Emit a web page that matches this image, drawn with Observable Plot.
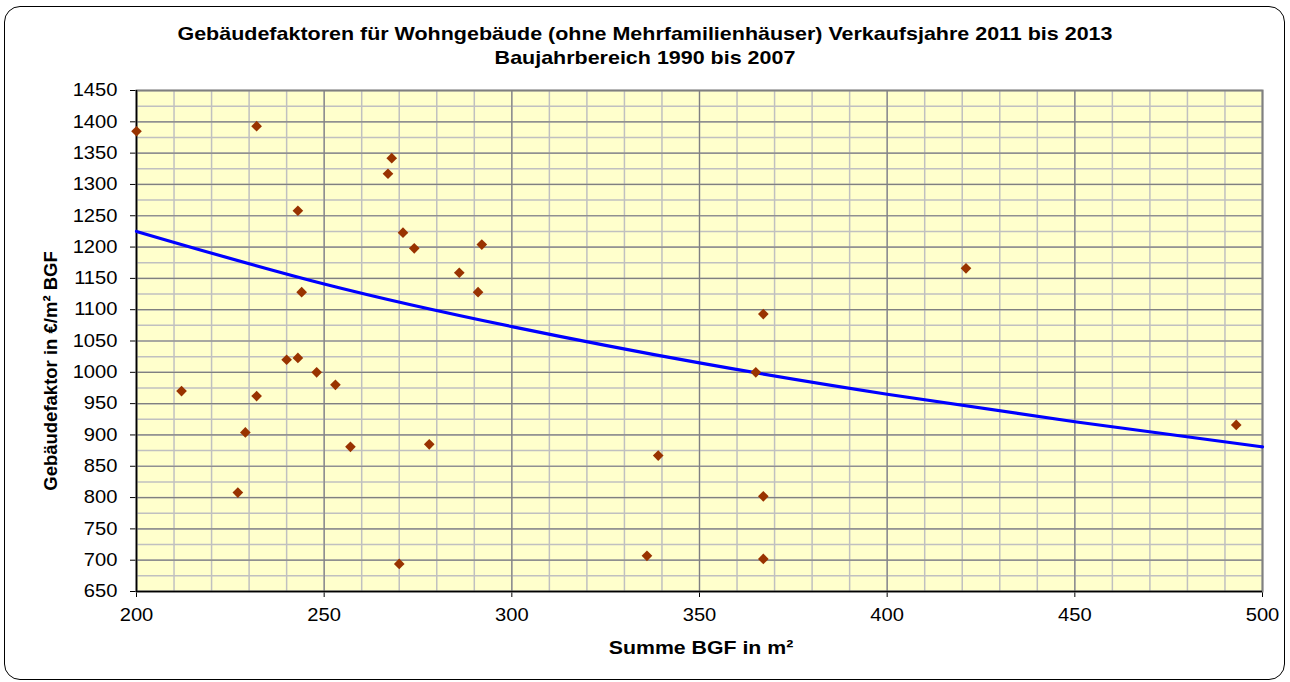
<!DOCTYPE html>
<html>
<head>
<meta charset="utf-8">
<script src="https://cdn.jsdelivr.net/npm/d3@7"></script>
<script src="https://cdn.jsdelivr.net/npm/@observablehq/plot@0.6"></script>
<style>
  html, body { margin: 0; padding: 0; background: #fff; }
  #wrap { position: relative; width: 1290px; height: 682px; overflow: hidden; background: #fff;
          font-family: "Liberation Sans", Arial, sans-serif; color: #000; }
  #border { position: absolute; left: 4px; top: 6px; width: 1279px; height: 672px;
            border: 1.3px solid #000; border-radius: 16px; }
  .t { position: absolute; white-space: nowrap; font-weight: bold; line-height: 1; }
  #title1, #title2 { left: 645px; font-size: 19px; transform: translate(-50%, -50%) scaleX(1.13); }
  #title1 { top: 33px; }
  #title2 { top: 57px; }
  #xtitle { left: 701px; top: 647px; font-size: 19px; transform: translate(-50%, -50%) scaleX(1.12); }
  #ytitle { left: 51px; top: 371px; font-size: 18.5px; transform: translate(-50%, -50%) rotate(-90deg); }
  #chart { position: absolute; left: 0; top: 0; }
</style>
</head>
<body>
<div id="wrap">
  <div id="border"></div>
  <div id="chart"></div>
  <div class="t" id="title1">Gebäudefaktoren für Wohngebäude (ohne Mehrfamilienhäuser) Verkaufsjahre 2011 bis 2013</div>
  <div class="t" id="title2">Baujahrbereich 1990 bis 2007</div>
  <div class="t" id="xtitle">Summe BGF in m²</div>
  <div class="t" id="ytitle">Gebäudefaktor in €/m² BGF</div>
</div>
<script>
// Data
const bgf    = [200, 232, 268, 267, 243, 271, 274, 292, 286, 291, 244, 240, 243, 248, 253, 212, 232, 229, 227, 257, 278, 270, 336, 339, 365, 367, 367, 367, 421, 493];
const faktor = [1385, 1393, 1342, 1317, 1258, 1223, 1198, 1204, 1159, 1128, 1128, 1020, 1023, 1000, 980, 970, 962, 904, 808, 881, 885, 694, 707, 867, 1000, 1093, 802, 702, 1166, 916];

// Trend line (blue curve) read at x positions
const trendX = [200, 250, 300, 350, 400, 450, 500];
const trendY = [1225, 1141, 1073, 1015, 965, 921, 881];

// Grid values
const xMinor = d3.range(200, 501, 10);
const xMajor = d3.range(200, 501, 50);
const yMinor = d3.range(650, 1451, 25);
const yMajor = d3.range(650, 1451, 50);

const points = bgf.map((x, i) => ({x, y: faktor[i]}));
const trend = trendX.map((x, i) => ({x, y: trendY[i]}));

const svg = Plot.plot({
  width: 1290,
  height: 682,
  marginTop: 90,
  marginBottom: 91,
  marginLeft: 136,
  marginRight: 28,
  style: { fontFamily: "'Liberation Sans', Arial, sans-serif", fontSize: "18px", color: "#000", background: "transparent", overflow: "visible" },
  x: { domain: [200, 500], ticks: 6, tickSize: 6, tickPadding: 11, tickFormat: d3.format("d"), label: null },
  y: { domain: [650, 1450], ticks: 16, tickSize: 6, tickPadding: 13, tickFormat: d3.format("d"), label: null },
  marks: [
    Plot.frame({ fill: "#ffffcc", stroke: null }),
    Plot.ruleX(xMinor, { stroke: "#c0c0c0", strokeWidth: 1.5, strokeOpacity: 1 }),
    Plot.ruleY(yMinor, { stroke: "#c0c0c0", strokeWidth: 1.5, strokeOpacity: 1 }),
    Plot.ruleX(xMajor, { stroke: "#808080", strokeWidth: 1.2, strokeOpacity: 1 }),
    Plot.ruleY(yMajor, { stroke: "#808080", strokeWidth: 1.2, strokeOpacity: 1 }),
    Plot.frame({ stroke: "#808080", strokeWidth: 2 }),
    Plot.ruleX([200], { stroke: "#000", strokeWidth: 1.5 }),
    Plot.ruleY([650], { stroke: "#000", strokeWidth: 1.5 }),
    Plot.line(trend, { x: "x", y: "y", stroke: "#0000ff", strokeWidth: 3.2, curve: "natural" }),
    Plot.dot(points, { x: "x", y: "y", symbol: "diamond2", r: 4.8, fill: "#993300", stroke: null })
  ]
});
document.getElementById("chart").appendChild(svg);

// widen tick labels horizontally like the reference
const sr = svg.getBoundingClientRect();
svg.querySelectorAll("text").forEach(t => {
  const r = t.getBoundingClientRect();
  const cx = r.left + r.width / 2 - sr.left;
  const cy = r.top + r.height / 2 - sr.top;
  const b = t.getBBox();
  let ax;
  if (cy > 595) ax = b.x + b.width / 2;          // x-axis label, centered
  else if (cx < 136) ax = b.x + b.width;          // y-axis label, right aligned
  else return;
  const ay = b.y + b.height / 2;
  const prev = t.getAttribute("transform") || "";
  t.setAttribute("transform", `${prev} translate(${ax},${ay}) scale(1.12,1) translate(${-ax},${-ay})`);
});
</script>
</body>
</html>
